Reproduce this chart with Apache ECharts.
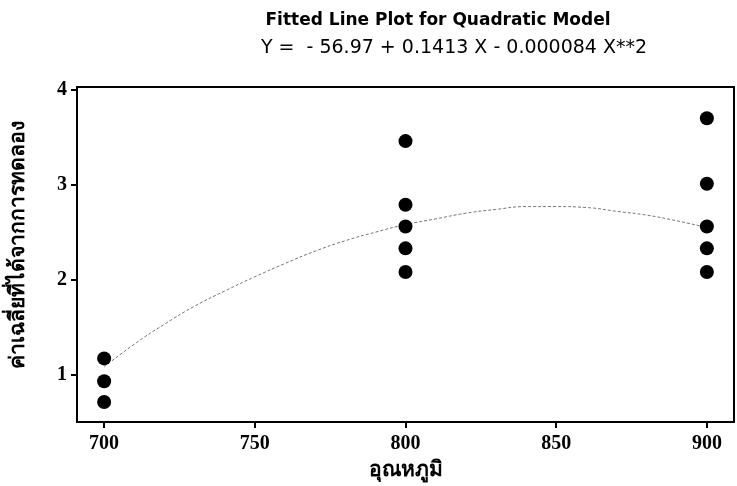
<!DOCTYPE html>
<html><head><meta charset="utf-8">
<script src="https://cdn.jsdelivr.net/npm/echarts@6/dist/echarts.min.js"></script>
<style>html,body{margin:0;padding:0;background:#fff}#c{width:737px;height:486px}</style>
</head><body><div id="c"></div>
<script>
const titleText = 'Fitted Line Plot for Quadratic Model';
const subtitleText = 'Y =  - 56.97 + 0.1413 X - 0.000084 X**2';
const xAxisName = 'อุณหภูมิ';
const yAxisName = 'ค่าเฉลี่ยที่ได้จากการทดลอง';
const xTicks = [700, 750, 800, 850, 900];
const yTicks = [1, 2, 3, 4];
const obsX = [700, 700, 700, 800, 800, 800, 800, 800, 900, 900, 900, 900, 900];
const obsY = [1.17, 0.93, 0.71, 3.46, 2.79, 2.56, 2.33, 2.08, 3.70, 3.01, 2.56, 2.33, 2.08];
const fitX = [700, 710, 720, 730, 740, 750, 760, 770, 780, 790, 800, 810, 820, 830, 840, 850, 860, 870, 880, 890, 900];
const fitY = [1.08, 1.32, 1.53, 1.72, 1.88, 2.03, 2.17, 2.30, 2.41, 2.50, 2.58, 2.64, 2.70, 2.74, 2.77, 2.77, 2.76, 2.72, 2.68, 2.62, 2.55];

const chart = echarts.init(document.getElementById('c'), null, {renderer: 'canvas'});
const tickFont = {color: '#000', fontFamily: 'Liberation Serif', fontWeight: 'bold', fontSize: 20};
chart.setOption({
  animation: false,
  backgroundColor: '#fff',
  title: [
    {text: titleText, left: 433, top: 7, textAlign: 'center',
     textStyle: {fontFamily: 'DejaVu Sans', fontWeight: 'bold', fontSize: 17, color: '#000'}},
    {text: subtitleText, left: 449, top: 34, textAlign: 'center',
     textStyle: {fontFamily: 'DejaVu Sans', fontWeight: 'normal', fontSize: 19, color: '#000'}}
  ],
  grid: {left: 75, right: 3, top: 87, bottom: 63, show: true, borderColor: '#000', borderWidth: 2, backgroundColor: 'transparent'},
  xAxis: {
    type: 'value', min: 691, max: 909,
    name: xAxisName, nameLocation: 'middle', nameGap: 38,
    nameTextStyle: {fontFamily: 'Noto Sans, DejaVu Sans, sans-serif', fontWeight: 'bold', fontSize: 21, color: '#000'},
    axisLine: {show: true, lineStyle: {color: '#000', width: 2}},
    axisTick: {show: true, inside: false, length: 6, lineStyle: {color: '#000', width: 2}, customValues: xTicks},
    axisLabel: Object.assign({customValues: xTicks, margin: 12}, tickFont),
    splitLine: {show: false}
  },
  yAxis: {
    type: 'value', min: 0.5, max: 4.03,
    name: yAxisName, nameLocation: 'middle', nameGap: 48, nameRotate: 90,
    nameTextStyle: {fontFamily: 'Noto Sans, DejaVu Sans, sans-serif', fontWeight: 'bold', fontSize: 21, color: '#000', padding: [0, 0, 0, 20]},
    axisLine: {show: true, lineStyle: {color: '#000', width: 2}},
    axisTick: {show: true, inside: false, length: 6, lineStyle: {color: '#000', width: 2}, customValues: yTicks},
    axisLabel: Object.assign({customValues: yTicks, margin: 10}, tickFont),
    splitLine: {show: false}
  },
  series: [
    {type: 'line', data: fitX.map((x, i) => [x, fitY[i]]), showSymbol: false, smooth: true,
     lineStyle: {color: '#777', width: 1, type: [3, 2]}, z: 2},
    {type: 'scatter', data: obsX.map((x, i) => [x, obsY[i]]), symbol: 'circle', symbolSize: 14,
     itemStyle: {color: '#000', opacity: 1}, z: 3}
  ]
});
</script></body></html>
